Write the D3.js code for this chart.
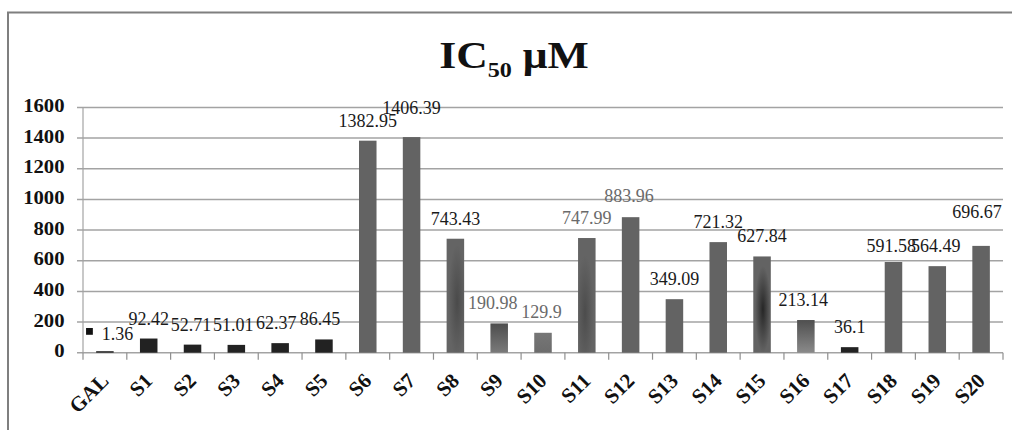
<!DOCTYPE html>
<html>
<head>
<meta charset="utf-8">
<script src="https://cdn.jsdelivr.net/npm/d3@7"></script>
<style>
  html, body { margin: 0; padding: 0; background: #fff; }
  svg { display: block; }
  text { font-family: "Liberation Serif", "Times New Roman", serif; }
</style>
</head>
<body>
<svg id="chart" width="1012" height="430"></svg>
<script>
// ---- data ----
const categories = ["GAL", "S1", "S2", "S3", "S4", "S5", "S6", "S7", "S8", "S9", "S10",
  "S11", "S12", "S13", "S14", "S15", "S16", "S17", "S18", "S19", "S20"];
const ic50Values = [1.36, 92.42, 52.71, 51.01, 62.37, 86.45, 1382.95, 1406.39, 743.43, 190.98, 129.9,
  747.99, 883.96, 349.09, 721.32, 627.84, 213.14, 36.1, 591.58, 564.49, 696.67];
const yTickValues = [0, 200, 400, 600, 800, 1000, 1200, 1400, 1600];
const titleParts = ["IC", "50", " \u03bcM"];

// ---- styling (per bar) ----
const barFill = ["dark", "dark", "dark", "dark", "dark", "dark", "gray", "gray", "g8", "g9", "g10",
  "g11", "gray", "gray", "gray", "g15", "g16", "dark", "gray", "gray", "gray"];
const labelTone = ["ink", "ink", "ink", "ink", "ink", "ink", "ink", "ink", "ink", "soft", "soft",
  "soft", "soft", "ink", "ink", "ink", "ink", "ink", "ink", "ink", "ink"];
// small offsets that keep neighbouring value labels apart
const labelShift = [[12.6, 1.5], [0, 0], [-1.5, 0], [-3, 0], [-4, 0], [-4, 0], [0, 0], [0, -9], [0, 0],
  [-6.5, 0], [-1.4, -1], [0, 0], [-1.7, -1.5], [0, 0], [0, 0], [0, 0], [-2.7, 0], [0, 0],
  [-2.3, 3.7], [-1.6, 0], [-4, -13.6]];

const svg = d3.select("#chart");
const W = 1012, H = 430;
const plot = { left: 83, right: 1003, top: 107.4, bottom: 352.7 };

const x = d3.scaleBand().domain(categories).range([plot.left, plot.right]).padding(0);
const y = d3.scaleLinear().domain([0, 1600]).range([plot.bottom, plot.top]);
const barW = x.bandwidth() * 0.4;

// gradients for the shaded bars
const defs = svg.append("defs");
function linear(id, top, bottom) {
  const g = defs.append("linearGradient").attr("id", id)
    .attr("x1", 0).attr("y1", 0).attr("x2", 0).attr("y2", 1);
  g.append("stop").attr("offset", "0%").attr("stop-color", top);
  g.append("stop").attr("offset", "100%").attr("stop-color", bottom);
}
function radial(id, cx, cy, r, inner, outer) {
  const g = defs.append("radialGradient").attr("id", id)
    .attr("cx", cx).attr("cy", cy).attr("r", r).attr("fx", cx).attr("fy", cy);
  g.append("stop").attr("offset", "0%").attr("stop-color", inner);
  g.append("stop").attr("offset", "100%").attr("stop-color", outer);
}
linear("g9", "#4d4d4d", "#7a7a7a");
linear("g10", "#767676", "#6c6c6c");
linear("g16", "#4f4f4f", "#8a8a8a");
radial("g15", 0.55, 0.55, 0.45, "#262626", "#636363");
radial("g8", 0.6, 0.55, 0.5, "#4a4a4a", "#646464");
radial("g11", 0.4, 0.65, 0.5, "#4c4c4c", "#646464");

const fillFor = k => k === "dark" ? "#222222" : k === "gray" ? "#636363" : `url(#${k})`;

// outer chart frame
svg.append("path")
  .attr("d", `M8,${H} V12.5 H${W}`)
  .attr("fill", "none").attr("stroke", "#7f7f7f").attr("stroke-width", 2);

// title
const title = svg.append("text")
  .attr("transform", "translate(514,68.3) scale(1.15,1)")
  .attr("text-anchor", "middle")
  .attr("font-weight", "bold")
  .attr("fill", "#111");
title.append("tspan").attr("font-size", 38).text(titleParts[0]);
title.append("tspan").attr("font-size", 21).attr("dy", 8.4).text(titleParts[1]);
title.append("tspan").attr("font-size", 38).attr("dy", -8.4).text(titleParts[2]);

// horizontal gridlines with short left ticks
svg.append("g").selectAll("line").data(yTickValues).join("line")
  .attr("x1", plot.left - 6).attr("x2", plot.right)
  .attr("y1", d => y(d)).attr("y2", d => y(d))
  .attr("stroke", "#a3a3a3").attr("stroke-width", 1.5);

// vertical value axis line
svg.append("line")
  .attr("x1", plot.left).attr("x2", plot.left)
  .attr("y1", plot.top).attr("y2", plot.bottom)
  .attr("stroke", "#a3a3a3").attr("stroke-width", 1.2);

// y tick labels
svg.append("g").selectAll("text").data(yTickValues).join("text")
  .attr("transform", d => `translate(64.5,${y(d) + 4.5}) scale(1.15,1)`)
  .attr("text-anchor", "end")
  .attr("font-size", 18).attr("font-weight", "bold").attr("fill", "#111")
  .text(d => d);

// category tick marks at band boundaries
const boundaries = categories.map(c => x(c)).concat([plot.right]);
svg.append("g").selectAll("line").data(boundaries).join("line")
  .attr("x1", d => d).attr("x2", d => d)
  .attr("y1", plot.bottom).attr("y2", plot.bottom + 7)
  .attr("stroke", "#8f8f8f").attr("stroke-width", 1.2);

// bars
svg.append("g").selectAll("rect").data(ic50Values).join("rect")
  .attr("x", (d, i) => x(categories[i]) + (x.bandwidth() - barW) / 2)
  .attr("width", barW)
  .attr("y", d => Math.min(y(d), plot.bottom - 1.5))
  .attr("height", d => Math.max(plot.bottom - y(d), 1.5))
  .attr("fill", (d, i) => fillFor(barFill[i]));

// value labels
const labels = svg.append("g").selectAll("text").data(ic50Values).join("text")
  .attr("x", (d, i) => x(categories[i]) + x.bandwidth() / 2 + labelShift[i][0])
  .attr("y", (d, i) => y(d) - 14 + labelShift[i][1])
  .attr("text-anchor", "middle")
  .attr("font-size", 18)
  .attr("fill", (d, i) => labelTone[i] === "soft" ? "#6a6a6a" : "#1a1a1a")
  .text(d => d);

// legend key drawn in front of the first label
const first = labels.filter((d, i) => i === 0);
const fx = +first.attr("x"), fy = +first.attr("y");
const fw = first.node().getComputedTextLength();
svg.append("rect")
  .attr("x", fx - fw / 2 - 15.7).attr("y", fy - 12)
  .attr("width", 6.8).attr("height", 6.8)
  .attr("fill", "#111");

// rotated category labels
svg.append("g").selectAll("text").data(categories).join("text")
  .attr("transform", d => `translate(${x(d) + x.bandwidth() / 2 + 5},382) rotate(-45)`)
  .attr("text-anchor", "end")
  .attr("font-size", 21).attr("font-weight", "bold").attr("fill", "#111")
  .text(d => d);
</script>
</body>
</html>
